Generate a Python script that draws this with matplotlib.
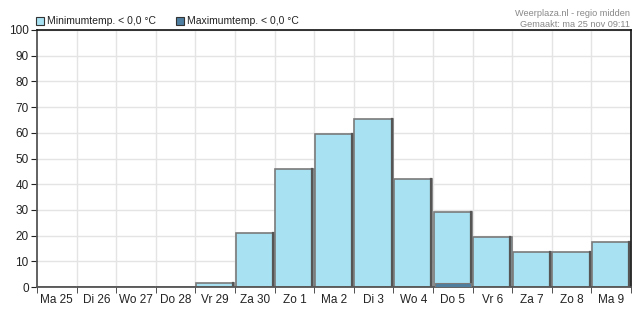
import matplotlib
matplotlib.use("Agg")
import matplotlib.pyplot as plt
import numpy as np
from matplotlib.patches import Rectangle

plt.rcParams['font.family'] = ['Liberation Sans', 'DejaVu Sans']

days = ["Ma 25", "Di 26", "Wo 27", "Do 28", "Vr 29", "Za 30", "Zo 1", "Ma 2",
        "Di 3", "Wo 4", "Do 5", "Vr 6", "Za 7", "Zo 8", "Ma 9"]
min_temp = [0, 0, 0, 0, 1.7, 21, 46, 59.6, 65.5, 42, 29, 19.5, 13.6, 13.6, 17.5]
max_temp = [0, 0, 0, 0, 0, 0, 0, 0, 0, 0, 1.6, 0, 0, 0, 0]
legend_labels = ["Minimumtemp. < 0,0 °C", "Maximumtemp. < 0,0 °C"]

fig = plt.figure(figsize=(6.43, 3.13), dpi=100)
ax = fig.add_axes([37/643, 1 - 287/313, 594/643, 257/313])

n = len(days)
x = np.arange(n)
ax.set_xlim(-0.5, n - 0.5)
ax.set_ylim(0, 100)

# grid
for yv in range(10, 101, 10):
    ax.axhline(yv, color='#e4e4e4', lw=1, zorder=0)
for xv in np.arange(0.5, n - 0.5, 1):
    ax.axvline(xv, color='#e4e4e4', lw=1, zorder=0)

w = 0.97
minc = '#a8e1f2'
maxc = '#4f7fa0'
ax.bar(x, min_temp, width=w, color=minc, edgecolor='#7a7a7a', lw=1.2, zorder=2)
# dark right edge shading for 3D look
for xi, v in zip(x, min_temp):
    if v > 0:
        ax.plot([xi + w/2 - 0.03, xi + w/2 - 0.03], [0, v], color='#555555', lw=1.6, zorder=3)
ax.bar(x, max_temp, width=w * 0.95, color=maxc, edgecolor='#7a7a7a', lw=0.8, zorder=4)

ax.set_yticks(range(0, 101, 10))
ax.set_xticks(x)
ax.set_xticklabels(days)
ax.set_xticks(np.arange(-0.5, n, 1), minor=True)
ax.tick_params(axis='x', which='major', length=0, labelsize=8.5, pad=5, colors='#222222')
ax.tick_params(axis='x', which='minor', length=4, direction='out', color='#333333')
ax.tick_params(axis='y', length=4, direction='out', labelsize=8.5, pad=2, colors='#222222')
for lbl in ax.get_xticklabels() + ax.get_yticklabels():
    lbl.set_color('#222222')

for s in ['left', 'bottom']:
    ax.spines[s].set_color('#555555')
    ax.spines[s].set_linewidth(1.3)
for s in ['top', 'right']:
    ax.spines[s].set_color('#111111')
    ax.spines[s].set_linewidth(1.2)

# legend above axes
fig.patches.append(Rectangle((36/643, 1 - 25/313), 8/643, 8/313, transform=fig.transFigure,
                             facecolor=minc, edgecolor='#333333', lw=0.8))
fig.text(47/643, 1 - 21.5/313, legend_labels[0], fontsize=7.5, va='center', ha='left', color='#222222')
fig.patches.append(Rectangle((176/643, 1 - 25/313), 8/643, 8/313, transform=fig.transFigure,
                             facecolor=maxc, edgecolor='#333333', lw=0.8))
fig.text(187/643, 1 - 21.5/313, legend_labels[1], fontsize=7.5, va='center', ha='left', color='#222222')

fig.text(630/643, 1 - 14/313, "Weerplaza.nl - regio midden", fontsize=6.6, ha='right', va='center', color='#888888')
fig.text(630/643, 1 - 24.5/313, "Gemaakt: ma 25 nov 09:11", fontsize=6.6, ha='right', va='center', color='#888888')

fig.savefig("out.png", dpi=100)
